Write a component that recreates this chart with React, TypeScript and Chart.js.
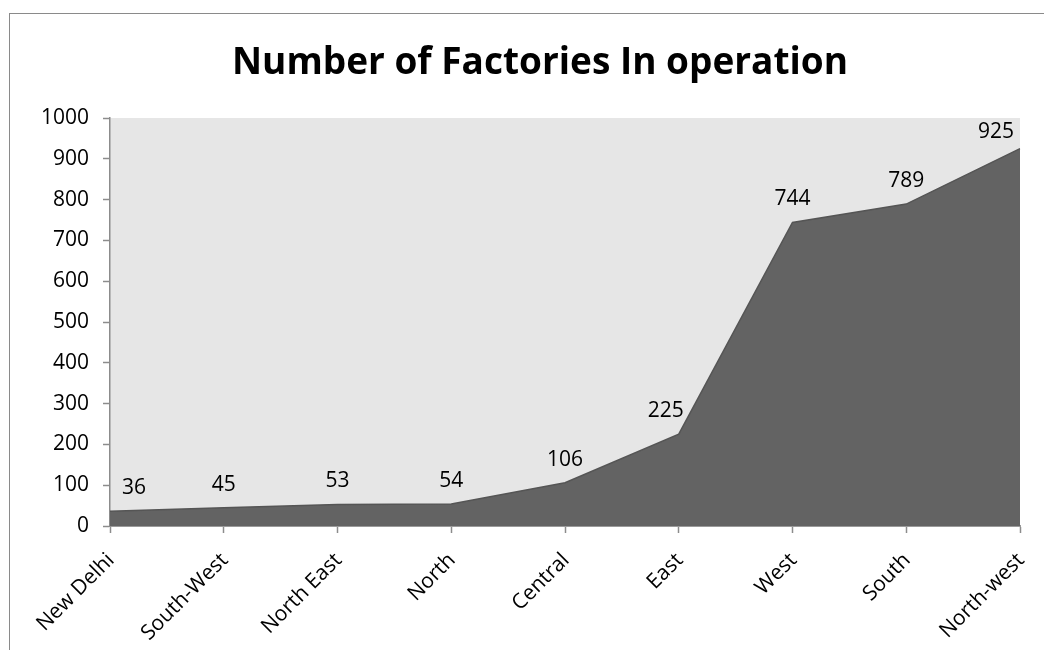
import React, { useEffect, useRef } from "react";
import { Chart, registerables } from "chart.js";

Chart.register(...registerables);

const chartTitle = "Number of Factories In operation";
const categories = [
  "New Delhi",
  "South-West",
  "North East",
  "North",
  "Central",
  "East",
  "West",
  "South",
  "North-west",
];
const factories = [36, 45, 53, 54, 106, 225, 744, 789, 925];
const yMin = 0;
const yMax = 1000;
const yStep = 100;

const FONT = "'Open Sans', 'DejaVu Sans', sans-serif";

const plotBgPlugin = {
  id: "plotBg",
  beforeDraw(chart: any) {
    const { ctx, chartArea } = chart;
    if (!chartArea) return;
    ctx.save();
    ctx.fillStyle = "#e6e6e6";
    ctx.fillRect(
      chartArea.left,
      chartArea.top,
      chartArea.right - chartArea.left,
      chartArea.bottom - chartArea.top
    );
    ctx.restore();
  },
};

const titlePlugin = {
  id: "customTitle",
  afterDraw(chart: any) {
    const { ctx } = chart;
    ctx.save();
    ctx.font = `bold 37px ${FONT}`;
    ctx.fillStyle = "#000";
    ctx.textAlign = "center";
    ctx.textBaseline = "alphabetic";
    ctx.fillText(chartTitle, 530, 60);
    ctx.restore();
  },
};

const dataLabelPlugin = {
  id: "dataLabels",
  afterDatasetsDraw(chart: any) {
    const { ctx, chartArea } = chart;
    const meta = chart.getDatasetMeta(0);
    const pts = meta.data.map((p: any) => ({ x: p.x, y: p.y }));
    const data = chart.data.datasets[0].data as number[];
    const lineY = (px: number) => {
      if (px <= pts[0].x) return pts[0].y;
      for (let k = 0; k < pts.length - 1; k++) {
        const a = pts[k];
        const b = pts[k + 1];
        if (px >= a.x && px <= b.x) {
          return a.y + ((px - a.x) / (b.x - a.x)) * (b.y - a.y);
        }
      }
      return pts[pts.length - 1].y;
    };
    ctx.save();
    ctx.font = `21px ${FONT}`;
    ctx.fillStyle = "#000";
    ctx.textAlign = "center";
    ctx.textBaseline = "middle";
    const halfH = 10;
    pts.forEach((pt: any, i: number) => {
      const text = String(data[i]);
      const w = ctx.measureText(text).width;
      let x = pt.x;
      let y = pt.y - 23;
      x = Math.max(chartArea.left + w / 2 + 12, Math.min(chartArea.right - w / 2 - 6, x));
      y = Math.max(chartArea.top + 14, y);
      // nudge left while the label would overlap the filled area
      let guard = 0;
      while (guard < 60) {
        const bottom = y + halfH;
        const clear =
          bottom + 2 <= lineY(x + w / 2) && bottom + 2 <= lineY(x - w / 2);
        if (clear) break;
        x -= 1;
        guard++;
      }
      ctx.fillText(text, x, y);
    });
    ctx.restore();
  },
};

export default function App() {
  const ref = useRef<HTMLCanvasElement | null>(null);

  useEffect(() => {
    if (!ref.current) return;
    const chart = new Chart(ref.current, {
      type: "line",
      data: {
        labels: categories,
        datasets: [
          {
            label: "Factories",
            data: factories,
            fill: "origin",
            backgroundColor: "#636363",
            borderColor: "#555555",
            borderWidth: 1.5,
            pointRadius: 0,
            pointHoverRadius: 0,
            tension: 0,
          },
        ],
      },
      options: {
        animation: false,
        responsive: false,
        maintainAspectRatio: false,
        layout: { padding: { left: 0, right: 24, top: 104, bottom: 0 } },
        plugins: {
          legend: { display: false },
          tooltip: { enabled: false },
          title: { display: false },
        },
        scales: {
          x: {
            type: "category",
            offset: false,
            grid: {
              display: true,
              drawOnChartArea: false,
              drawTicks: true,
              tickLength: 7,
              tickColor: "#8c8c8c",
              tickWidth: 1.5,
            },
            border: { display: true, color: "#9a9a9a", width: 2 },
            ticks: {
              color: "#000",
              font: { family: FONT, size: 21 },
              minRotation: 45,
              maxRotation: 45,
              padding: 15,
              labelOffset: 1,
              autoSkip: false,
            },
            afterFit(scale: any) {
              scale.height = 124;
              scale.paddingLeft = 0;
              scale.paddingRight = 0;
            },
          },
          y: {
            min: yMin,
            max: yMax,
            grid: {
              display: true,
              drawOnChartArea: false,
              drawTicks: true,
              tickLength: 7,
              tickColor: "#8c8c8c",
              tickWidth: 1.5,
            },
            border: { display: true, color: "#8c8c8c", width: 1.5 },
            ticks: {
              stepSize: yStep,
              color: "#000",
              font: { family: FONT, size: 21 },
              padding: 14,
              callback: (v: any) => String(v),
            },
            afterFit(scale: any) {
              scale.width = 100;
              scale.paddingTop = 0;
              scale.paddingBottom = 0;
            },
          },
        },
      },
      plugins: [plotBgPlugin, dataLabelPlugin, titlePlugin],
    });
    return () => chart.destroy();
  }, []);

  return (
    <div
      style={{
        marginLeft: 1,
        marginTop: 5,
        width: 1034,
        height: 636,
        borderTop: "1px solid #8a8a8a",
        borderLeft: "1px solid #8a8a8a",
        background: "#fff",
      }}
    >
      <canvas ref={ref} width={1034} height={636} style={{ display: "block" }} />
    </div>
  );
}
